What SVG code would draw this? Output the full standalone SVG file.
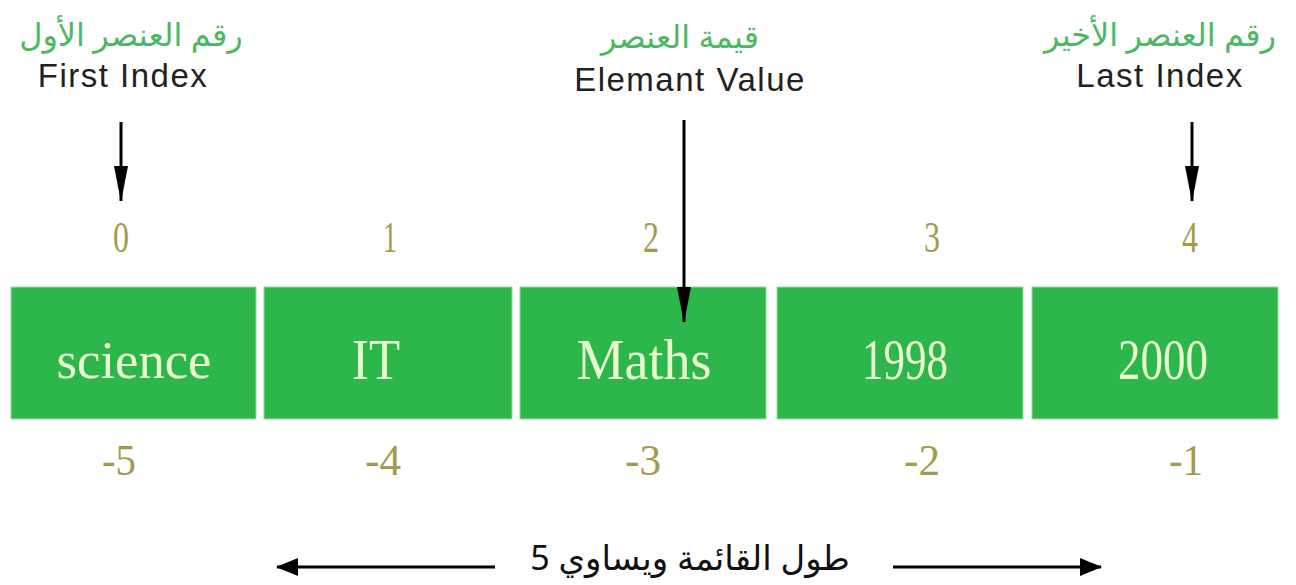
<svg xmlns="http://www.w3.org/2000/svg" width="1296" height="585" viewBox="0 0 1296 585">
<style>
.box{fill:#2db64a;stroke:#9ed8a6;stroke-width:1}
.val{font-family:"Liberation Serif","DejaVu Serif",serif;font-size:52px;fill:#eaf8d2;text-anchor:middle}
.tall{font-size:56px}
.idx{font-family:"Liberation Serif","DejaVu Serif",serif;font-size:45px;fill:#a39a4e;text-anchor:middle}
.en{font-family:"Liberation Sans",Arial,sans-serif;font-size:33px;letter-spacing:1.5px;fill:#222;text-anchor:middle}
.ar{font-family:"Noto Sans","DejaVu Sans",sans-serif;font-size:32px;fill:#4cb862;text-anchor:middle}
.arb{font-family:"Noto Sans","DejaVu Sans",sans-serif;font-size:34px;fill:#111;text-anchor:middle}
.ln{stroke:#000;stroke-width:3;fill:none}
</style>
<defs>
<marker id="ahv" viewBox="0 0 36 16" refX="35" refY="8" markerWidth="36" markerHeight="16" markerUnits="userSpaceOnUse" orient="auto">
<path d="M0,1 L36,8 L0,15 Z" fill="#000"/>
</marker>
<marker id="ahh" viewBox="0 0 22 20" refX="21" refY="10" markerWidth="22" markerHeight="20" markerUnits="userSpaceOnUse" orient="auto">
<path d="M0,1 L22,10 L0,19 Z" fill="#000"/>
</marker>
</defs>
<g id="label-first">
<text class="ar" x="131" y="46">رقم العنصر الأول</text>
<text class="en" x="123" y="87">First Index</text>
</g>
<g id="label-value">
<text class="ar" x="680" y="48">قيمة العنصر</text>
<text class="en" x="690" y="91">Elemant Value</text>
</g>
<g id="label-last">
<text class="ar" x="1160" y="46">رقم العنصر الأخير</text>
<text class="en" x="1160" y="87">Last Index</text>
</g>
<g id="indices">
<text class="idx" x="121" y="252" textLength="16" lengthAdjust="spacingAndGlyphs">0</text>
<text class="idx" x="390" y="252" textLength="14" lengthAdjust="spacingAndGlyphs">1</text>
<text class="idx" x="651" y="252" textLength="16" lengthAdjust="spacingAndGlyphs">2</text>
<text class="idx" x="932" y="252" textLength="16" lengthAdjust="spacingAndGlyphs">3</text>
<text class="idx" x="1190" y="252" textLength="16" lengthAdjust="spacingAndGlyphs">4</text>
</g>
<g id="node-0"><rect class="box" x="11" y="287" width="245" height="132"/><text class="val" x="134" y="378" textLength="155" lengthAdjust="spacingAndGlyphs">science</text></g>
<g id="node-1"><rect class="box" x="264" y="287" width="248" height="132"/><text class="val tall" x="376" y="379" textLength="48" lengthAdjust="spacingAndGlyphs">IT</text></g>
<g id="node-2"><rect class="box" x="520" y="287" width="246" height="132"/><text class="val tall" x="644" y="379" textLength="135" lengthAdjust="spacingAndGlyphs">Maths</text></g>
<g id="node-3"><rect class="box" x="777" y="287" width="246" height="132"/><text class="val tall" x="905" y="379" textLength="86" lengthAdjust="spacingAndGlyphs">1998</text></g>
<g id="node-4"><rect class="box" x="1032" y="287" width="246" height="132"/><text class="val tall" x="1163" y="379" textLength="90" lengthAdjust="spacingAndGlyphs">2000</text></g>
<g id="neg-indices">
<text class="idx" x="119" y="475" textLength="34" lengthAdjust="spacingAndGlyphs">-5</text>
<text class="idx" x="383" y="475" textLength="36" lengthAdjust="spacingAndGlyphs">-4</text>
<text class="idx" x="643" y="475" textLength="36" lengthAdjust="spacingAndGlyphs">-3</text>
<text class="idx" x="922" y="475" textLength="36" lengthAdjust="spacingAndGlyphs">-2</text>
<text class="idx" x="1186" y="475" textLength="34" lengthAdjust="spacingAndGlyphs">-1</text>
</g>
<g id="length-label">
<text class="arb" x="690" y="570">طول القائمة ويساوي 5</text>
</g>
<g id="connectors">
<line class="ln" x1="121" y1="122" x2="121" y2="201" marker-end="url(#ahv)"/>
<line class="ln" x1="684" y1="120" x2="684" y2="322" marker-end="url(#ahv)"/>
<line class="ln" x1="1192" y1="122" x2="1192" y2="201" marker-end="url(#ahv)"/>
<line class="ln" x1="495" y1="567" x2="277" y2="567" marker-end="url(#ahh)"/>
<line class="ln" x1="893" y1="567" x2="1101" y2="567" marker-end="url(#ahh)"/>
</g>
</svg>
